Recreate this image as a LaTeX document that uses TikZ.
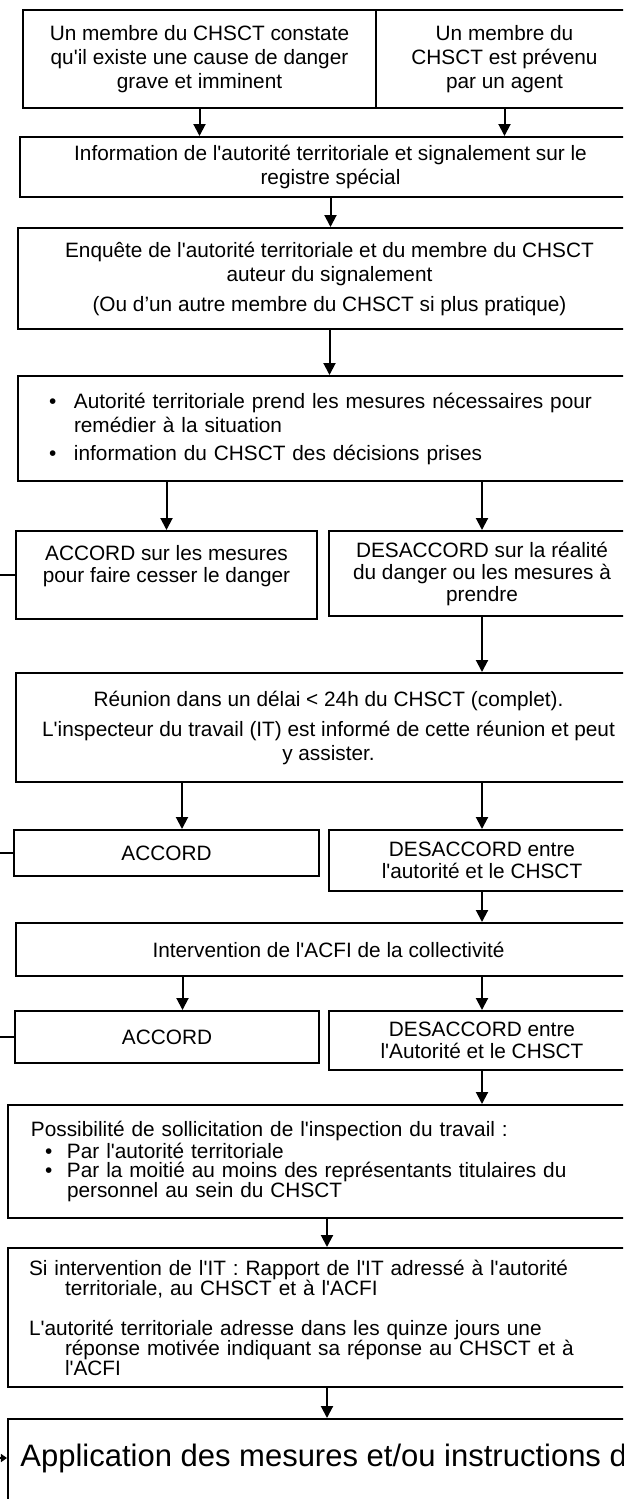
\documentclass[tikz,border=0pt]{standalone}
\usepackage{fontspec}
\setmainfont{Liberation Sans}
\newfontfamily\arialfont{Liberation Sans}
\usetikzlibrary{arrows.meta,positioning}

\begin{document}
\arialfont
\begin{tikzpicture}[
      x=0.5pt, y=-0.5pt,
      every node/.style={rectangle, inner sep=0pt, font=\fontsize{10.4}{12}\selectfont},
      box/.style={draw, line width=1pt, anchor=north west, align=center},
      leftbox/.style={box, align=left},
      arr/.style={line width=1pt, -{Triangle[width=6pt,length=6pt]}},
      stub/.style={line width=0.6pt},
  ]
  \useasboundingbox (0,0) rectangle (623,1499);
  \clip (0,0) rectangle (623,1499);
  \coordinate (lft) at (-4,0);

  % signalement
  \node[box, minimum width=176.5pt, minimum height=49pt] (a1) at (22,9)
       {Un membre du CHSCT constate\\qu'il existe une cause de danger\\grave et imminent};
  \node[box, minimum width=128.5pt, minimum height=49pt] (a2) at (375,9)
       {Un membre du\\CHSCT est prévenu\\par un agent};
  \node[box, minimum width=310.5pt, minimum height=30pt] (b) at (19,136)
       {Information de l'autorité territoriale et signalement sur le\\registre spécial};
  \draw[arr] (a1.south) -- (a1.south |- b.north);
  \draw[arr] (a2.south) -- (a2.south |- b.north);

  % enquete
  \node[box, minimum width=311.5pt, minimum height=50.5pt] (c) at (17,227)
       {Enquête de l'autorité territoriale et du membre du CHSCT\\auteur du signalement\\[3pt]
        (Ou d’un autre membre du CHSCT si plus pratique)};
  \draw[arr] (b.south) -- (b.south |- c.north);

  \node[leftbox, minimum width=311.5pt, minimum height=52.5pt, text width=280.5pt, inner xsep=15.5pt] (d) at (17,375)
       {\makebox[12.5pt][l]{\textbullet}Autorité territoriale prend les mesures nécessaires pour\\
        \hspace*{12.5pt}remédier à la situation\\[2pt]
        \makebox[12.5pt][l]{\textbullet}information du CHSCT des décisions prises};
  \draw[arr] (c.south) -- (c.south |- d.north);

  % premier avis
  \node[box, minimum width=150.5pt, minimum height=44pt, font=\fontsize{10.4}{11}\selectfont] (e1) at (15,530)
       {ACCORD sur les mesures\\pour faire cesser le danger\\\mbox{}};
  \node[box, minimum width=153pt, minimum height=42.5pt, font=\fontsize{10.4}{11}\selectfont] (e2) at (328,530)
       {DESACCORD sur la réalité\\du danger ou les mesures à\\prendre};
  \draw[arr] (e1.north |- d.south) -- (e1.north);
  \draw[arr] (e2.north |- d.south) -- (e2.north);
  \draw[stub] (e1.west) -- (e1.west -| lft);

  % reunion
  \node[box, minimum width=312.5pt, minimum height=54.5pt] (f) at (15,672)
       {Réunion dans un délai < 24h du CHSCT (complet).\\[3pt]
        L'inspecteur du travail (IT) est informé de cette réunion et peut\\y assister.};
  \draw[arr] (e2.south) -- (e2.south |- f.north);

  \node[box, minimum width=152.5pt, minimum height=23pt] (g1) at (13,829) {ACCORD};
  \node[box, minimum width=153pt, minimum height=30.5pt, font=\fontsize{10.4}{11}\selectfont] (g2) at (328,829)
       {DESACCORD entre\\l'autorité et le CHSCT};
  \draw[arr] ([xshift=7.75pt]g1.north |- f.south) -- ([xshift=7.75pt]g1.north);
  \draw[arr] (g2.north |- f.south) -- (g2.north);
  \draw[stub] (g1.west) -- (g1.west -| lft);

  % ACFI
  \node[box, minimum width=312.5pt, minimum height=26.5pt] (h) at (15,922)
       {Intervention de l'ACFI de la collectivité};
  \draw[arr] (g2.south) -- (g2.south |- h.north);

  \node[box, minimum width=152pt, minimum height=26pt] (i1) at (14,1010) {ACCORD};
  \node[box, minimum width=153pt, minimum height=29.5pt, font=\fontsize{10.4}{11}\selectfont] (i2) at (328,1010)
       {DESACCORD entre\\l'Autorité et le CHSCT};
  \draw[arr] ([xshift=7.75pt]i1.north |- h.south) -- ([xshift=7.75pt]i1.north);
  \draw[arr] (i2.north |- h.south) -- (i2.north);
  \draw[stub] (i1.west) -- (i1.west -| lft);

  % inspection du travail
  \node[leftbox, minimum width=319pt, minimum height=56.5pt, text width=296pt, inner xsep=11.5pt,
        font=\fontsize{10.4}{9.8}\selectfont] (j) at (7,1104)
       {Possibilité de sollicitation de l'inspection du travail :\\
        \hspace*{7pt}\makebox[11pt][l]{\textbullet}Par l'autorité territoriale\\
        \hspace*{7pt}\makebox[11pt][l]{\textbullet}Par la moitié au moins des représentants titulaires du\\
        \hspace*{18pt}personnel au sein du CHSCT};
  \draw[arr] (i2.south) -- (i2.south |- j.north);

  \node[leftbox, minimum width=319pt, minimum height=69.5pt, text width=298pt, inner xsep=10.5pt,
        font=\fontsize{10.4}{10}\selectfont] (k) at (7,1247)
       {Si intervention de l'IT : Rapport de l'IT adressé à l'autorité\\
        \hspace*{18pt}territoriale, au CHSCT et à l'ACFI\\[10pt]
        L'autorité territoriale adresse dans les quinze jours une\\
        \hspace*{18pt}réponse motivée indiquant sa réponse au CHSCT et à\\
        \hspace*{18pt}l'ACFI};
  \draw[arr] (j.south) -- (j.south |- k.north);

  % application
  \node[box, minimum width=346.5pt, minimum height=50pt] (l) at (7,1418) {};
  \node[anchor=west, font=\fontsize{15.5}{18}\selectfont] (lt) at (20,1458)
       {Application des mesures et/ou instructions d};
  \draw[arr] (k.south) -- (k.south |- l.north);
  \draw[stub, -{Triangle[width=4pt,length=3pt]}] (lt.west -| lft) -- (lt.west -| l.west);
\end{tikzpicture}
\end{document}
